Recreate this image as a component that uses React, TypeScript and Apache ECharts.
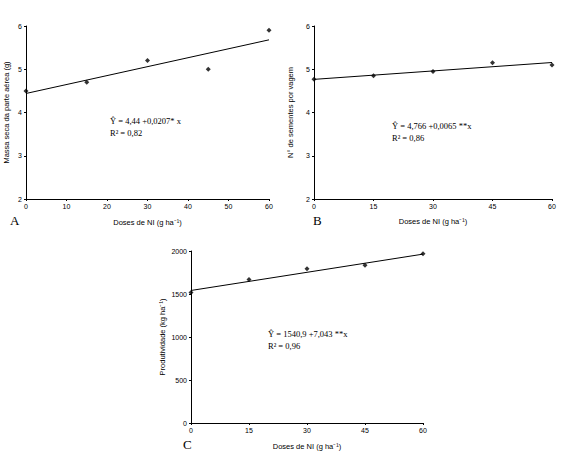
import React, { useEffect, useRef } from 'react'
import * as echarts from 'echarts'

// Panel A: Massa seca da parte aérea
const dosesA = [0, 15, 30, 45, 60]
const massaA = [4.5, 4.7, 5.2, 5.0, 5.9]
const fitA = [4.44, 5.68]

// Panel B: N° de sementes por vagem
const dosesB = [0, 15, 30, 45, 60]
const sementesB = [4.77, 4.85, 4.95, 5.15, 5.1]
const fitB = [4.766, 5.156]

// Panel C: Produtividade
const dosesC = [0, 15, 30, 45, 60]
const produtC = [1518, 1668, 1795, 1834, 1969]
const fitC = [1540.9, 1963.5]

const fitX = [0, 60]

const eqA = ['Ŷ = 4,44 +0,0207* x', 'R² = 0,82']
const eqB = ['Ŷ = 4,766 +0,0065 **x', 'R² = 0,86']
const eqC = ['Ŷ = 1540,9 +7,043 **x', 'R² = 0,96']

const xName = 'Doses de NI (g ha⁻¹)'

const sans = 'Liberation Sans'
const serif = 'Liberation Serif'

const axisBase = {
  axisLine: { show: true, lineStyle: { color: '#000', width: 1 } },
  axisTick: { show: true, length: 2, lineStyle: { color: '#000' } },
  splitLine: { show: false },
  axisLabel: { color: '#000', fontFamily: sans, fontSize: 7, margin: 4, formatter: (v: number) => String(v) },
  nameTextStyle: { color: '#000', fontFamily: sans, fontSize: 7.5 },
  nameLocation: 'middle' as const
}

const pairs = (xs: number[], ys: number[]) => xs.map((x, i) => [x, ys[i]])

const eqText = (lines: string[], left: number, top: number) =>
  lines.map((t, i) => ({
    type: 'text',
    left,
    top: top + i * 12,
    style: { text: t, font: `8.5px "${serif}"`, fill: '#000' }
  }))

const letter = (t: string, x: number, y: number) => ({
  type: 'text',
  left: x,
  top: y,
  style: { text: t, font: `13px "${serif}"`, fill: '#000' }
})

export default function App() {
  const ref = useRef<HTMLDivElement>(null)

  useEffect(() => {
    if (!ref.current) return
    const chart = echarts.init(ref.current, undefined, { renderer: 'svg' })

    const scatter = (idx: number, data: number[][]) => ({
      type: 'scatter',
      xAxisIndex: idx,
      yAxisIndex: idx,
      symbol: 'diamond',
      symbolSize: 5,
      itemStyle: { color: '#000' },
      data,
      z: 3
    })
    const fitLine = (idx: number, ys: number[]) => ({
      type: 'line',
      xAxisIndex: idx,
      yAxisIndex: idx,
      showSymbol: false,
      lineStyle: { color: '#000', width: 1 },
      data: pairs(fitX, ys),
      z: 2
    })

    chart.setOption({
      animation: false,
      backgroundColor: '#fff',
      grid: [
        { left: 26, top: 26, width: 243, height: 173 },
        { left: 314, top: 26, width: 238, height: 173 },
        { left: 191, top: 251, width: 232, height: 172 }
      ],
      xAxis: [
        { ...axisBase, type: 'value', gridIndex: 0, min: 0, max: 60, interval: 10, name: xName, nameGap: 19 },
        { ...axisBase, type: 'value', gridIndex: 1, min: 0, max: 60, interval: 15, name: xName, nameGap: 18 },
        { ...axisBase, type: 'value', gridIndex: 2, min: 0, max: 60, interval: 15, name: xName, nameGap: 19 }
      ],
      yAxis: [
        { ...axisBase, type: 'value', gridIndex: 0, min: 2, max: 6, interval: 1, name: 'Massa seca da parte aérea (g)', nameGap: 16 },
        { ...axisBase, type: 'value', gridIndex: 1, min: 2, max: 6, interval: 1, name: 'N° de sementes por vagem', nameGap: 20 },
        { ...axisBase, type: 'value', gridIndex: 2, min: 0, max: 2000, interval: 500, name: 'Produtividade (kg ha⁻¹)', nameGap: 25 }
      ],
      series: [
        fitLine(0, fitA),
        scatter(0, pairs(dosesA, massaA)),
        fitLine(1, fitB),
        scatter(1, pairs(dosesB, sementesB)),
        fitLine(2, fitC),
        scatter(2, pairs(dosesC, produtC))
      ],
      graphic: [
        ...eqText(eqA, 110, 116),
        ...eqText(eqB, 392, 121),
        ...eqText(eqC, 268, 329),
        letter('A', 10, 214),
        letter('B', 313, 214),
        letter('C', 183, 438)
      ]
    })

    return () => chart.dispose()
  }, [])

  return (
    <div
      ref={ref}
      style={{ position: 'fixed', left: 0, top: 0, width: 566, height: 468, background: '#fff' }}
    />
  )
}
